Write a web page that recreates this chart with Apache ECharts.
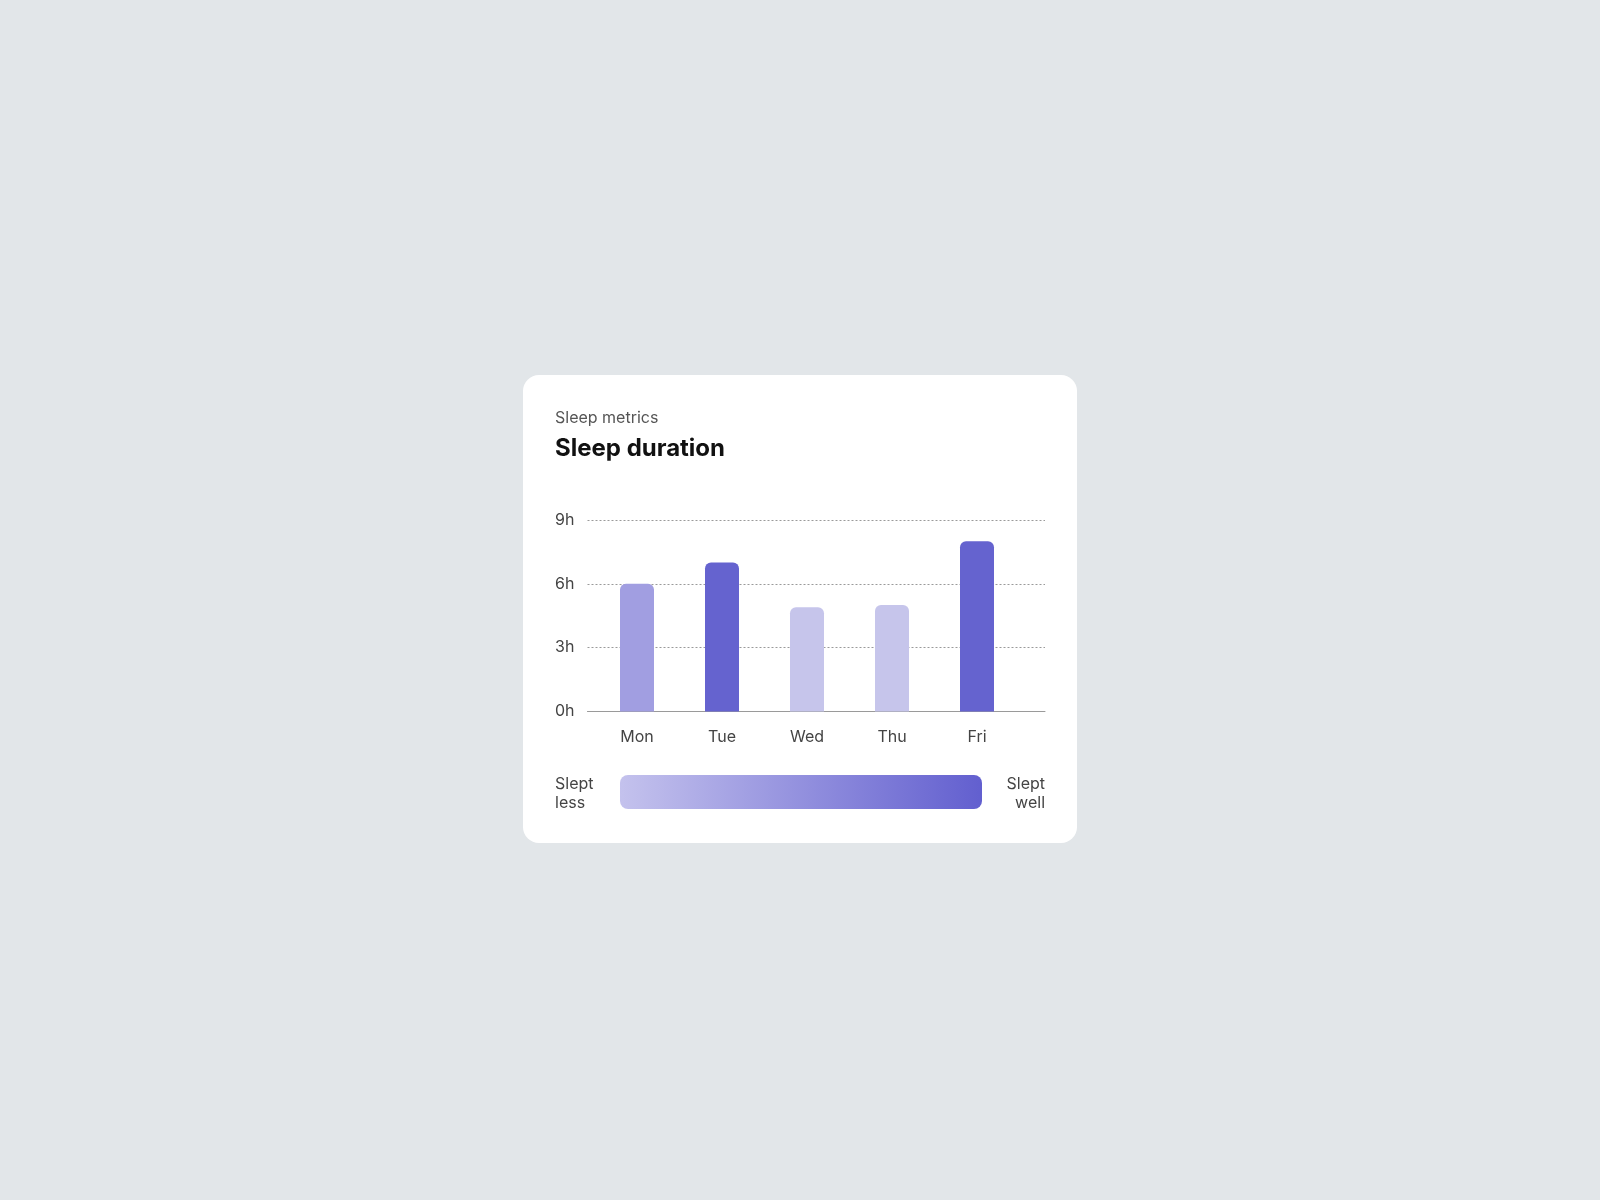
<!DOCTYPE html>
<html>
<head>
<meta charset="utf-8">
<script src="https://cdn.jsdelivr.net/npm/echarts@6/dist/echarts.min.js"></script>
<style>
  html, body { margin: 0; padding: 0; background: #e2e6e9; }
  #chart { width: 1600px; height: 1200px; }
</style>
</head>
<body>
<div id="chart"></div>
<script>
// ---- data ----
const days = ['Mon', 'Tue', 'Wed', 'Thu', 'Fri'];
const hours = [6, 7, 4.9, 5.0, 8];
const yMin = 0, yMax = 9, yStep = 3;
const subtitle = 'Sleep metrics';
const title = 'Sleep duration';
const legendLow = 'Slept\nless';
const legendHigh = 'Slept\nwell';

// ---- styles ----
const barColors = ['#a19ee1', '#6563cf', '#c6c5eb', '#c6c5eb', '#6563cf'];
const FONT = 'Inter, "Noto Sans", sans-serif';

const chart = echarts.init(document.getElementById('chart'), null, { renderer: 'canvas' });

const option = {
  backgroundColor: '#e2e6e9',
  animation: false,
  textStyle: { fontFamily: FONT },
  grid: [
    { left: 587.5, top: 520, width: 457.5, height: 191.5, containLabel: false },
    { left: 594.5, top: 520, width: 425, height: 191.5, containLabel: false }
  ],
  xAxis: [
    {
      gridIndex: 0, type: 'value', min: 0, max: 1,
      axisLine: { show: true, lineStyle: { color: '#9a9a9a', width: 1 } },
      axisTick: { show: false }, axisLabel: { show: false }, splitLine: { show: false }
    },
    {
      gridIndex: 1, type: 'category', data: days,
      axisLine: { show: false }, axisTick: { show: false },
      axisLabel: { color: '#444', fontSize: 16, margin: 18, fontFamily: FONT }
    }
  ],
  yAxis: [
    {
      gridIndex: 0, type: 'value', min: yMin, max: yMax, interval: yStep,
      axisLine: { show: false }, axisTick: { show: false },
      axisLabel: {
        color: '#444', fontSize: 16, fontFamily: FONT,
        align: 'left', margin: 32.5,
        formatter: v => v + 'h'
      },
      splitLine: {
        show: true,
        lineStyle: { color: '#9a9a9a', width: 1, type: [2, 2] }
      }
    },
    {
      gridIndex: 1, type: 'value', min: yMin, max: yMax, interval: yStep,
      show: false, splitLine: { show: false }
    }
  ],
  series: [
    {
      type: 'bar',
      xAxisIndex: 1, yAxisIndex: 1,
      barWidth: 34,
      data: hours.map((v, i) => ({
        value: v,
        itemStyle: { color: barColors[i], borderRadius: [6, 6, 0, 0] }
      })),
      z: 3
    }
  ],
  graphic: [
    {
      type: 'rect', z: -10, silent: true,
      shape: { x: 523, y: 375, width: 554, height: 468, r: 16 },
      style: { fill: '#ffffff' }
    },
    {
      type: 'text', z: 10,
      style: {
        x: 555, y: 418, text: subtitle, fill: '#555',
        font: '400 16px ' + FONT,
        align: 'left', verticalAlign: 'middle',
        textAlign: 'left', textVerticalAlign: 'middle'
      }
    },
    {
      type: 'text', z: 10,
      style: {
        x: 555, y: 449, text: title, fill: '#111',
        font: '700 24px ' + FONT,
        align: 'left', verticalAlign: 'middle',
        textAlign: 'left', textVerticalAlign: 'middle'
      }
    },
    {
      type: 'rect', z: 10,
      shape: { x: 620, y: 775, width: 362, height: 34, r: 8 },
      style: {
        fill: new echarts.graphic.LinearGradient(0, 0, 1, 0, [
          { offset: 0, color: '#c4c2ed' },
          { offset: 1, color: '#625fcf' }
        ])
      }
    },
    {
      type: 'text', z: 10,
      style: {
        x: 555, y: 793.5, text: legendLow, fill: '#444',
        font: '400 16px ' + FONT, lineHeight: 19.6,
        align: 'left', verticalAlign: 'middle',
        textAlign: 'left', textVerticalAlign: 'middle'
      }
    },
    {
      type: 'text', z: 10,
      style: {
        x: 1045, y: 793.5, text: legendHigh, fill: '#444',
        font: '400 16px ' + FONT, lineHeight: 19.6,
        align: 'right', verticalAlign: 'middle',
        textAlign: 'right', textVerticalAlign: 'middle'
      }
    }
  ]
};

chart.setOption(option);
</script>
</body>
</html>
